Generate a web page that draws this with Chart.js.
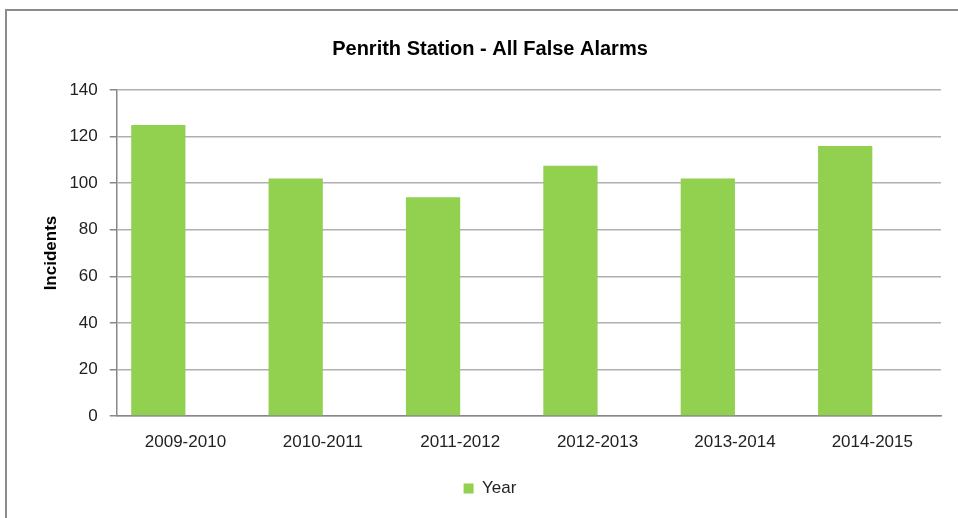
<!DOCTYPE html>
<html>
<head>
<meta charset="utf-8">
<script src="https://cdn.jsdelivr.net/npm/chart.js@4.4.1/dist/chart.umd.min.js"></script>
<style>
	html, body { margin: 0; padding: 0; background: #fff; overflow: hidden; }
	#frame {
		position: absolute; left: 5px; top: 9px; width: 1000px; height: 560px;
		border-left: 2px solid #8c8c8c; border-top: 2px solid #8c8c8c;
	}
	#wrap { position: absolute; left: 7px; top: 11px; width: 962px; height: 500px; }
</style>
</head>
<body>
<div id="frame"></div>
<div id="wrap"><canvas id="alarm-chart"></canvas></div>
<script>
const categories = ["2009-2010", "2010-2011", "2011-2012", "2012-2013", "2013-2014", "2014-2015"];
const incidents = [125, 102, 94, 107.5, 102, 116];
const emptySeries = [];
const yTicks = [0, 20, 40, 60, 80, 100, 120, 140];

const fontFamily = "'Liberation Sans', Arial, sans-serif";

const ctx = document.getElementById("alarm-chart").getContext("2d");
const myChart = new Chart(ctx, {
	type: "bar",
	data: {
		labels: categories,
		datasets: [
			{
				label: "Year",
				data: incidents,
				backgroundColor: "#92d050",
				borderWidth: 0,
				categoryPercentage: 0.79,
				barPercentage: 1,
			},
			{
				label: "",
				data: emptySeries,
				backgroundColor: "rgba(0,0,0,0)",
				categoryPercentage: 0.79,
				barPercentage: 1,
			},
		],
	},
	options: {
		responsive: true,
		maintainAspectRatio: false,
		animation: false,
		layout: {
			padding: { left: 32, right: 28, top: 0, bottom: 4 },
		},
		scales: {
			x: {
				grid: { display: false, drawTicks: false },
				border: { display: true, color: "#888888", width: 1.5 },
				ticks: {
					padding: 16,
					color: "#222222",
					font: { family: fontFamily, size: 17 },
					maxRotation: 0,
				},
			},
			y: {
				min: 0,
				max: 140,
				afterBuildTicks: (axis) => {
					axis.ticks = yTicks.map((v) => ({ value: v }));
				},
				grid: {
					color: "#b0b0b0",
					lineWidth: 1.5,
					tickLength: 7,
					tickColor: "#888888",
				},
				border: { display: true, color: "#888888", width: 1.5 },
				ticks: {
					padding: 12,
					color: "#222222",
					font: { family: fontFamily, size: 17 },
				},
				title: {
					display: true,
					text: "Incidents",
					color: "#000000",
					font: { family: fontFamily, size: 17, weight: "bold" },
					padding: { top: 2, bottom: -4 },
				},
			},
		},
		plugins: {
			title: {
				display: true,
				text: "Penrith Station - All False Alarms",
				color: "#000000",
				font: { family: fontFamily, size: 20, weight: "bold" },
				padding: { top: 26, bottom: 29 },
			},
			legend: {
				position: "bottom",
				labels: {
					boxWidth: 10,
					boxHeight: 10,
					padding: 11.5,
					color: "#222222",
					font: { family: fontFamily, size: 17 },
					filter: (item) => item.datasetIndex === 0,
				},
			},
			tooltip: { enabled: false },
		},
	},
});
</script>
</body>
</html>
